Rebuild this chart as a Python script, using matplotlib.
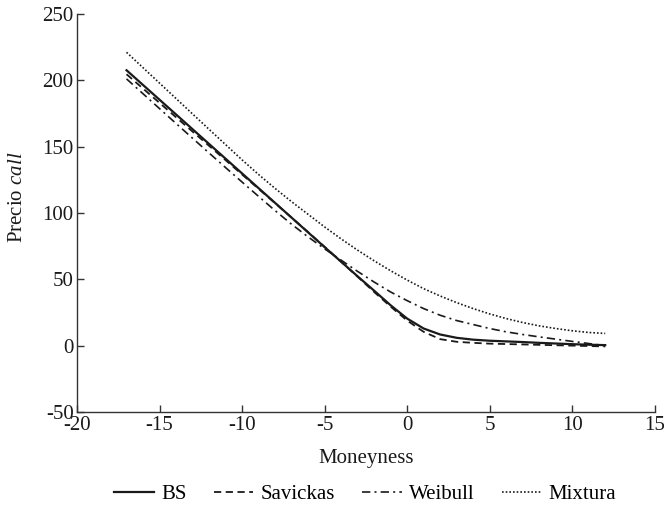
import matplotlib
matplotlib.use("Agg")
import matplotlib.pyplot as plt

plt.rcParams['font.family'] = ['Liberation Serif', 'DejaVu Serif']
plt.rcParams['mathtext.fontset'] = 'custom'
plt.rcParams['mathtext.it'] = 'Liberation Serif:italic'
plt.rcParams['mathtext.rm'] = 'Liberation Serif'
plt.rcParams['axes.unicode_minus'] = False

moneyness = list(range(-17, 13))
bs = [207.5, 196.4, 185.3, 174.2, 163.1, 152.0, 140.9, 129.8, 118.7, 107.6,
      96.5, 85.4, 74.3, 63.3, 52.3, 41.5, 30.5, 20.5, 13.0, 8.5,
      6.0, 4.6, 3.8, 3.3, 2.8, 2.2, 1.7, 1.2, 0.8, 0.5]
savickas = [204.5, 193.7, 182.9, 172.1, 161.3, 150.6, 139.8, 129.0, 118.2, 107.4,
            96.5, 85.6, 74.5, 63.3, 52.0, 40.5, 29.5, 19.0, 10.5, 5.0,
            3.0, 2.2, 1.6, 1.3, 1.0, 0.7, 0.4, 0.1, -0.2, -0.5]
weibull = [201.0, 189.8, 178.6, 167.4, 156.3, 145.2, 134.2, 123.3, 112.5, 101.8,
           91.5, 82.0, 73.0, 64.5, 56.0, 48.0, 40.5, 34.0, 28.0, 23.0,
           19.0, 16.0, 13.0, 10.5, 8.5, 6.7, 5.0, 3.3, 1.7, 0.0]
mixtura = [221.0, 209.4, 197.8, 186.2, 174.6, 163.0, 151.5, 140.0, 129.0, 118.5,
           108.5, 99.0, 89.5, 80.5, 72.0, 64.0, 56.5, 49.5, 43.0, 37.5,
           32.5, 28.0, 24.0, 20.5, 17.5, 15.0, 13.0, 11.3, 10.0, 9.3]

fig = plt.figure(figsize=(6.64, 5.12), dpi=100)
ax = fig.add_axes([0.116, 0.195, 0.870, 0.778])

c = '#1a1a1a'
ax.plot(moneyness, bs, color=c, lw=1.6, ls='-', label='BS')
ax.plot(moneyness, savickas, color=c, lw=1.3, ls=(0, (4, 2.5)), label='Savickas')
ax.plot(moneyness, weibull, color=c, lw=1.2, ls=(0, (5, 2.5, 1.2, 2.5)), label='Weibull')
ax.plot(moneyness, mixtura, color=c, lw=1.2, ls=(0, (1, 1.2)), label='Mixtura')

ax.set_xlim(-20, 15)
ax.set_ylim(-50, 250)
ax.set_xticks([-20, -15, -10, -5, 0, 5, 10, 15])
ax.set_yticks([-50, 0, 50, 100, 150, 200, 250])
for s in ['top', 'right']:
    ax.spines[s].set_visible(False)
for s in ['left', 'bottom']:
    ax.spines[s].set_color('#333333')
    ax.spines[s].set_linewidth(1.0)
ax.tick_params(direction='in', length=5, width=1.0, colors='#333333',
               labelsize=15, labelcolor='#1a1a1a')
ax.tick_params(axis='x', pad=3)
ax.tick_params(axis='y', pad=2.5)
ax.set_xlabel('Moneyness', fontsize=15, color='#1a1a1a', labelpad=10)
ax.set_ylabel(r'Precio $\mathit{call}$', fontsize=15, color='#1a1a1a')
ax.yaxis.set_label_coords(-0.087, 0.54)

fig.legend(loc='center', bbox_to_anchor=(0.55, 0.035), ncol=4, frameon=False,
           fontsize=15, handlelength=1.9, columnspacing=1.3, handletextpad=0.35)

fig.savefig('out.png', dpi=100)
